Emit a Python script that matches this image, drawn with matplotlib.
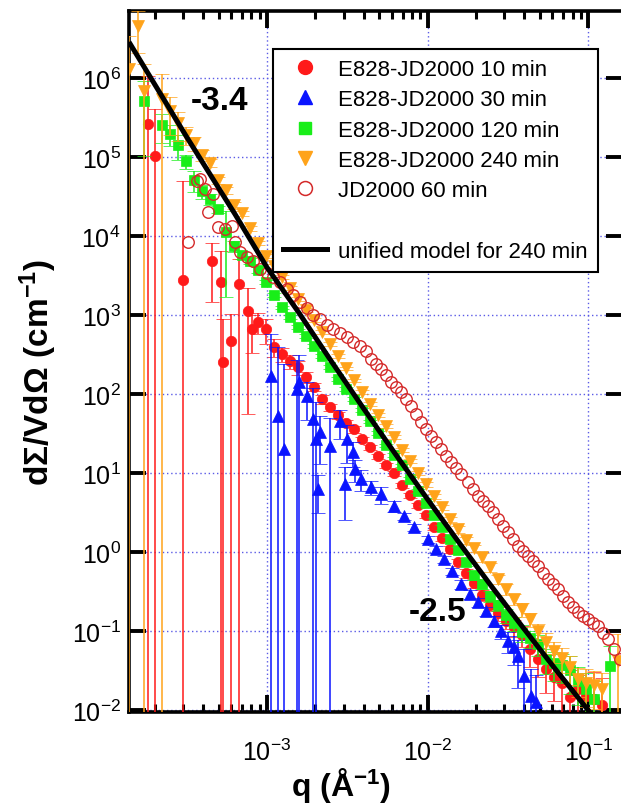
import numpy as np
import matplotlib
matplotlib.use('Agg')
import matplotlib.pyplot as plt
from matplotlib.lines import Line2D
from matplotlib.ticker import FixedLocator, NullLocator, NullFormatter, LogFormatterSciNotation

plt.rcParams['font.family'] = ['Liberation Sans', 'DejaVu Sans']
plt.rcParams['mathtext.fontset'] = 'custom'
plt.rcParams['mathtext.rm'] = 'Liberation Sans'
plt.rcParams['mathtext.bf'] = 'Liberation Sans:bold'
plt.rcParams['mathtext.it'] = 'Liberation Sans:italic'
plt.rcParams['mathtext.sf'] = 'Liberation Sans'

# ---------------- data ----------------
# E828-JD2000 240 min
q_240 = [1.38e-4, 1.57e-4, 1.71e-4, 2.22e-4, 2.49e-4, 2.79e-4, 3.13e-4, 3.51e-4, 3.94e-4, 4.42e-4,
         4.96e-4, 5.56e-4, 6.22e-4, 6.98e-4, 7.83e-4, 8.79e-4, 9.86e-4, 1.11e-3, 1.24e-3, 1.39e-3,
         1.56e-3, 1.75e-3, 1.96e-3, 2.20e-3, 2.47e-3, 2.77e-3, 3.10e-3, 3.48e-3, 3.91e-3, 4.39e-3,
         4.92e-3, 5.51e-3, 6.18e-3, 6.93e-3, 7.78e-3, 8.73e-3, 9.79e-3, 1.10e-2, 1.23e-2, 1.38e-2,
         1.55e-2, 1.74e-2, 1.95e-2, 2.19e-2, 2.45e-2, 2.75e-2, 3.08e-2, 3.46e-2, 3.88e-2, 4.36e-2,
         4.89e-2, 5.47e-2, 6.14e-2, 6.89e-2, 7.73e-2, 8.67e-2, 9.73e-2, 0.109, 0.122, 0.154]
I_240 = [1.30e6, 4.55e6, 6.84e5, 5.42e5, 3.82e5, 2.69e5, 1.90e5, 1.50e5, 1.06e5, 8.40e4,
         5.12e4, 3.82e4, 2.47e4, 1.95e4, 1.26e4, 8.15e3, 5.58e3, 4.17e3, 3.03e3, 2.20e3,
         1.60e3, 1.16e3, 865, 609, 430, 303, 213, 150, 106, 74.7,
         54.2, 39.4, 28.6, 19.5, 14.2, 10.0, 7.26, 5.12, 3.71, 2.62,
         1.95, 1.42, 1.12, 0.865, 0.646, 0.455, 0.340, 0.254, 0.190, 0.142,
         0.100, 0.0726, 0.0558, 0.0455, 0.0350, 0.0247, 0.0220, 0.0207, 0.0185, 0.0417]
rel_240 = [1.6, 0.55, 1.2, 1.1, 0.5, 0.4, 0.25, 0.2, 0.15, 0.12,
           0.1, 0.1, 0.1, 0.08, 0.08, 0.06, 0.06, 0.06, 0.05, 0.05,
           0.05, 0.05, 0.05, 0.05, 0.05, 0.05, 0.05, 0.05, 0.05, 0.05,
           0.05, 0.05, 0.05, 0.06, 0.06, 0.06, 0.07, 0.07, 0.08, 0.08,
           0.1, 0.1, 0.1, 0.12, 0.12, 0.12, 0.15, 0.15, 0.2, 0.2,
           0.25, 0.3, 0.3, 0.35, 0.4, 0.4, 0.5, 0.5, 0.6, 1.2]

# E828-JD2000 120 min
q_120 = [1.71e-4, 2.22e-4, 2.49e-4, 2.79e-4, 3.13e-4, 3.51e-4, 3.94e-4, 4.42e-4, 4.96e-4, 5.56e-4,
         6.22e-4, 6.98e-4, 7.83e-4, 8.79e-4, 9.86e-4, 1.11e-3, 1.24e-3, 1.39e-3, 1.56e-3, 1.75e-3,
         1.96e-3, 2.20e-3, 2.47e-3, 2.77e-3, 3.10e-3, 3.48e-3, 3.91e-3, 4.39e-3, 4.92e-3, 5.51e-3,
         6.18e-3, 6.93e-3, 7.78e-3, 8.73e-3, 9.79e-3, 1.10e-2, 1.23e-2, 1.38e-2, 1.55e-2, 1.74e-2,
         1.95e-2, 2.19e-2, 2.45e-2, 2.75e-2, 3.08e-2, 3.46e-2, 3.88e-2, 4.36e-2, 4.89e-2, 5.47e-2,
         6.14e-2, 6.89e-2, 7.73e-2, 8.67e-2, 9.73e-2, 0.109, 0.137]
I_120 = [5.12e5, 2.54e5, 1.95e5, 1.42e5, 8.90e4, 5.12e4, 3.71e4, 2.94e4, 2.20e4, 1.12e4,
         7.47e3, 5.75e3, 4.83e3, 3.72e3, 2.62e3, 1.79e3, 1.26e3, 944, 705, 542,
         405, 303, 220, 155, 116, 86.5, 62.7, 45.5, 32.1, 22.6,
         16.9, 12.6, 8.40, 5.92, 4.17, 2.94, 2.07, 1.46, 1.06, 0.747,
         0.512, 0.394, 0.277, 0.213, 0.159, 0.126, 0.0971, 0.0815, 0.0685, 0.0442,
         0.0394, 0.0371, 0.0321, 0.0233, 0.0185, 0.0138, 0.0361]
rel_120 = [0.8, 0.4, 0.3, 0.35, 0.2, 0.3, 0.2, 0.15, 0.1, 0.85,
           0.15, 0.1, 0.08, 0.08, 0.06, 0.06, 0.05, 0.05, 0.05, 0.05,
           0.05, 0.05, 0.05, 0.05, 0.05, 0.05, 0.05, 0.05, 0.05, 0.05,
           0.05, 0.05, 0.06, 0.06, 0.07, 0.07, 0.08, 0.08, 0.1, 0.1,
           0.12, 0.12, 0.15, 0.15, 0.2, 0.2, 0.25, 0.25, 0.3, 0.35,
           0.4, 0.4, 0.5, 0.5, 0.6, 0.7, 0.8]

# E828-JD2000 10 min
q_10 = [1.82e-4, 2.00e-4, 3.00e-4, 4.54e-4, 5.16e-4, 5.32e-4, 5.97e-4, 6.70e-4, 7.62e-4, 8.07e-4,
        8.79e-4, 9.86e-4, 1.11e-3, 1.24e-3, 1.39e-3, 1.56e-3, 1.75e-3, 1.96e-3, 2.20e-3, 2.47e-3,
        2.77e-3, 3.10e-3, 3.48e-3, 3.91e-3, 4.39e-3, 4.92e-3, 5.51e-3, 6.18e-3, 6.93e-3, 7.78e-3,
        8.73e-3, 9.79e-3, 1.10e-2, 1.23e-2, 1.38e-2, 1.55e-2, 1.74e-2, 1.95e-2, 2.19e-2, 2.45e-2,
        2.75e-2, 3.08e-2, 3.46e-2, 3.88e-2, 4.36e-2, 4.89e-2, 5.47e-2, 6.14e-2, 6.89e-2, 7.73e-2,
        8.67e-2, 9.73e-2, 0.109, 0.122]
I_10 = [2.62e5, 1.03e5, 2.77e3, 4.83e3, 2.62e3, 254, 469, 2.47e3, 1.12e3, 665,
        815, 665, 394, 321, 262, 220, 164, 123, 86.5, 68.4,
        54.2, 42.9, 36.1, 26.9, 21.3, 16.4, 12.6, 10.0, 7.05, 5.27,
        3.94, 2.94, 2.07, 1.50, 1.09, 0.747, 0.542, 0.405, 0.286, 0.213,
        0.169, 0.134, 0.112, 0.0890, 0.0592, 0.0442, 0.0330, 0.0262, 0.0220, 0.0146,
        0.0185, 0.0150, 0.0138, 0.0116]
rel_10 = [3.0, 2.9, 17.0, 0.7, 1.5, 2.5, 1.2, 1.1, 0.95, 0.5,
          0.3, 0.35, 0.25, 0.2, 0.2, 0.2, 0.15, 0.12, 0.12, 0.1,
          0.1, 0.1, 0.1, 0.08, 0.08, 0.08, 0.08, 0.08, 0.08, 0.08,
          0.08, 0.08, 0.08, 0.08, 0.1, 0.1, 0.12, 0.12, 0.15, 0.15,
          0.2, 0.2, 0.25, 0.3, 0.4, 0.4, 0.5, 0.5, 0.6, 1.2,
          0.5, 0.6, 1.2, 1.2]

# E828-JD2000 30 min
q_30 = [1.06e-3, 1.17e-3, 1.28e-3, 1.54e-3, 1.58e-3, 1.77e-3, 1.94e-3, 2.02e-3, 2.08e-3, 2.14e-3,
        2.47e-3, 2.85e-3, 3.06e-3, 3.15e-3, 3.44e-3, 3.53e-3, 3.86e-3, 4.45e-3, 5.13e-3, 6.18e-3,
        7.14e-3, 8.24e-3, 1.01e-2, 1.13e-2, 1.27e-2, 1.42e-2, 1.62e-2, 1.84e-2, 2.07e-2, 2.31e-2,
        2.59e-2, 2.87e-2, 3.18e-2, 3.46e-2, 3.66e-2, 3.99e-2, 4.42e-2, 4.74e-2]
I_30 = [169, 52.7, 20.1, 116, 142, 94.4, 48.3, 26.9, 6.27, 33.0,
        22.0, 45.5, 7.26, 26.9, 18.4, 11.2, 8.40, 6.65, 5.42, 3.82,
        2.85, 2.07, 1.46, 1.09, 0.815, 0.574, 0.394, 0.294, 0.233, 0.179,
        0.134, 0.100, 0.0747, 0.0627, 0.0483, 0.0269, 0.0150, 0.0126]
rel_30 = [2.4, 6.5, 11.0, 1.3, 1.2, 0.5, 1.5, 2.0, 0.5, 0.6,
          1.3, 0.4, 0.65, 0.5, 0.35, 0.3, 0.3, 0.2, 0.25, 0.15,
          0.1, 0.1, 0.1, 0.1, 0.1, 0.1, 0.12, 0.12, 0.12, 0.12,
          0.15, 0.2, 0.3, 0.4, 0.6, 1.2, 1.2, 1.2]

# JD2000 60 min (open circles)
q_60 = [3.22e-4, 3.66e-4, 3.83e-4, 4.11e-4, 4.29e-4, 4.61e-4, 4.96e-4, 5.47e-4, 6.05e-4, 6.32e-4,
        6.79e-4, 7.50e-4, 8.18e-4, 9.04e-4, 1.00e-3, 1.09e-3, 1.20e-3, 1.33e-3, 1.45e-3, 1.61e-3,
        1.77e-3, 1.94e-3, 2.14e-3, 2.37e-3, 2.58e-3, 2.85e-3, 3.15e-3, 3.44e-3, 3.79e-3, 4.14e-3,
        4.45e-3, 4.78e-3, 5.13e-3, 5.51e-3, 5.93e-3, 6.37e-3, 6.84e-3, 7.35e-3, 7.89e-3, 8.47e-3,
        9.12e-3, 9.79e-3, 1.05e-2, 1.13e-2, 1.21e-2, 1.30e-2, 1.40e-2, 1.51e-2, 1.62e-2, 1.79e-2,
        1.92e-2, 2.07e-2, 2.22e-2, 2.38e-2, 2.56e-2, 2.75e-2, 2.95e-2, 3.18e-2, 3.41e-2, 3.66e-2,
        3.94e-2, 4.23e-2, 4.54e-2, 4.89e-2, 5.25e-2, 5.64e-2, 6.05e-2, 6.50e-2, 6.98e-2, 7.50e-2,
        8.07e-2, 8.67e-2, 9.31e-2, 0.100, 0.107, 0.115, 0.124, 0.133, 0.145, 0.158]
I_60 = [8.39e3, 4.97e4, 5.27e4, 3.94e4, 2.01e4, 3.40e4, 1.30e4, 1.23e4, 1.34e4, 8.39e3,
        6.27e3, 5.42e3, 4.83e3, 3.82e3, 3.40e3, 3.03e3, 2.62e3, 2.13e3, 1.79e3, 1.46e3,
        1.23e3, 1.00e3, 890, 747, 665, 592, 527, 455, 405, 350,
        277, 240, 207, 174, 142, 123, 106, 86.5, 70.5, 55.8,
        44.2, 36.1, 29.4, 24.7, 20.1, 16.4, 13.8, 11.6, 9.71, 7.69,
        6.27, 5.12, 4.42, 3.82, 3.21, 2.62, 2.13, 1.79, 1.46, 1.19,
        1.03, 0.890, 0.769, 0.665, 0.542, 0.455, 0.394, 0.340, 0.277, 0.233,
        0.201, 0.174, 0.155, 0.142, 0.126, 0.116, 0.0944, 0.0792, 0.0592, 0.0442]

# unified model for 240 min
q_fit = [1.38e-4, 3.16e-4, 6.31e-4, 1.00e-3, 1.585e-3, 2.51e-3, 3.98e-3, 6.31e-3,
         1.00e-2, 1.585e-2, 2.51e-2, 3.98e-2, 6.31e-2, 0.100, 0.110]
I_fit = [2.86e6, 1.79e5, 1.90e4, 4.0e3, 1.06e3, 262, 66.5, 17.4,
         4.67, 1.29, 0.367, 0.108, 0.0324, 0.01005, 0.00798]

labels = ['E828-JD2000 10 min', 'E828-JD2000 30 min', 'E828-JD2000 120 min',
          'E828-JD2000 240 min', 'JD2000 60 min', 'unified model for 240 min']

x_major = [1e-3, 1e-2, 1e-1]
x_minor = [2e-4, 3e-4, 4e-4, 5e-4, 6e-4, 7e-4, 8e-4, 9e-4,
           2e-3, 3e-3, 4e-3, 5e-3, 6e-3, 7e-3, 8e-3, 9e-3,
           2e-2, 3e-2, 4e-2, 5e-2, 6e-2, 7e-2, 8e-2, 9e-2]
y_major = [1e-2, 1e-1, 1e0, 1e1, 1e2, 1e3, 1e4, 1e5, 1e6]

# ---------------- figure ----------------
fig = plt.figure(figsize=(6.21, 8.12), dpi=100)
ax = fig.add_axes([0.2077, 0.1219, 0.7955, 0.8633])
ax.set_xscale('log')
ax.set_yscale('log')

red = '#ff1a1a'
blue = '#0a14ff'
green = '#19ee19'
orange = '#ffa31a'
cred = '#d42a2a'

eb_kw = dict(linestyle='none', capsize=5, elinewidth=1.1, capthick=1.1)


def draw(q, I, rel, marker, color, ms, z):
    q = np.asarray(q)
    I = np.asarray(I)
    err = I * np.asarray(rel)
    ax.errorbar(q, I, yerr=err, marker=marker, color=color, ecolor=color,
                ms=ms, mec=color, mew=0.5, zorder=z, **eb_kw)


draw(q_10, I_10, rel_10, 'o', red, 7.5, 3)
draw(q_30, I_30, rel_30, '^', blue, 8, 4)
draw(q_120, I_120, rel_120, 's', green, 7, 5)
draw(q_240, I_240, rel_240, 'v', orange, 8.5, 6)
ax.plot(q_60, I_60, linestyle='none', marker='o', ms=8.3, mfc='none', mec=cred, mew=1.0, zorder=7)
ax.plot(q_fit, I_fit, color='black', lw=3.6, zorder=8, solid_capstyle='butt')

ax.set_xlim(1.38e-4, 0.165)
ax.set_ylim(9.5e-3, 7.05e6)

# ticks
ax.xaxis.set_major_locator(FixedLocator(x_major))
ax.xaxis.set_minor_locator(FixedLocator(x_minor))
ax.xaxis.set_major_formatter(LogFormatterSciNotation())
ax.xaxis.set_minor_formatter(NullFormatter())
ax.yaxis.set_major_locator(FixedLocator(y_major))
ax.yaxis.set_major_formatter(LogFormatterSciNotation())
ax.yaxis.set_minor_locator(NullLocator())
ax.yaxis.set_minor_formatter(NullFormatter())
ax.tick_params(which='both', direction='in', top=True, right=True, labelsize=18)
ax.tick_params(which='major', length=12, width=2.8)
ax.tick_params(which='minor', length=6, width=2.2)
ax.tick_params(axis='x', which='major', pad=19)
ax.tick_params(axis='y', which='major', pad=6)
for s in ax.spines.values():
    s.set_linewidth(2.6)

ax.grid(True, which='major', color='#5a5ae6', linestyle=(0, (1, 2)), linewidth=1.0)
ax.set_axisbelow(True)

# labels
ax.set_ylabel('dΣ/VdΩ (cm$^{\\mathbf{-1}}$)', fontsize=24, fontweight='bold', va='center')
ax.set_xlabel('q (Å$^{\\mathbf{-1}}$)', fontsize=23, fontweight='bold', va='center')
ax.yaxis.set_label_coords(-0.184, 0.486)
ax.xaxis.set_label_coords(0.429, -0.103)

ax.text(5.09e-4, 5.27e5, '-3.4', fontsize=24, fontweight='bold', ha='center', va='center')
ax.text(1.15e-2, 0.179, '-2.5', fontsize=24, fontweight='bold', ha='center', va='center')

# legend
handles = [
    Line2D([], [], linestyle='none', marker='o', color=red, ms=10),
    Line2D([], [], linestyle='none', marker='^', color=blue, ms=10),
    Line2D([], [], linestyle='none', marker='s', color=green, ms=9),
    Line2D([], [], linestyle='none', marker='v', color=orange, ms=10),
    Line2D([], [], linestyle='none', marker='o', mfc='none', mec=cred, ms=10, mew=1.1),
    Line2D([], [], linestyle='none'),
    Line2D([], [], color='black', lw=3.6),
]
leg_labels = labels[:5] + [' '] + labels[5:]
leg = ax.legend(handles, leg_labels, loc='upper right', bbox_to_anchor=(0.949, 0.946),
                fontsize=16, frameon=True, fancybox=False, framealpha=1,
                edgecolor='black', handlelength=2.0, handletextpad=0.5,
                labelspacing=0.42, borderpad=0.45, borderaxespad=0)
leg.get_frame().set_linewidth(1.5)
leg.set_zorder(20)

fig.savefig('out.png', dpi=100)
